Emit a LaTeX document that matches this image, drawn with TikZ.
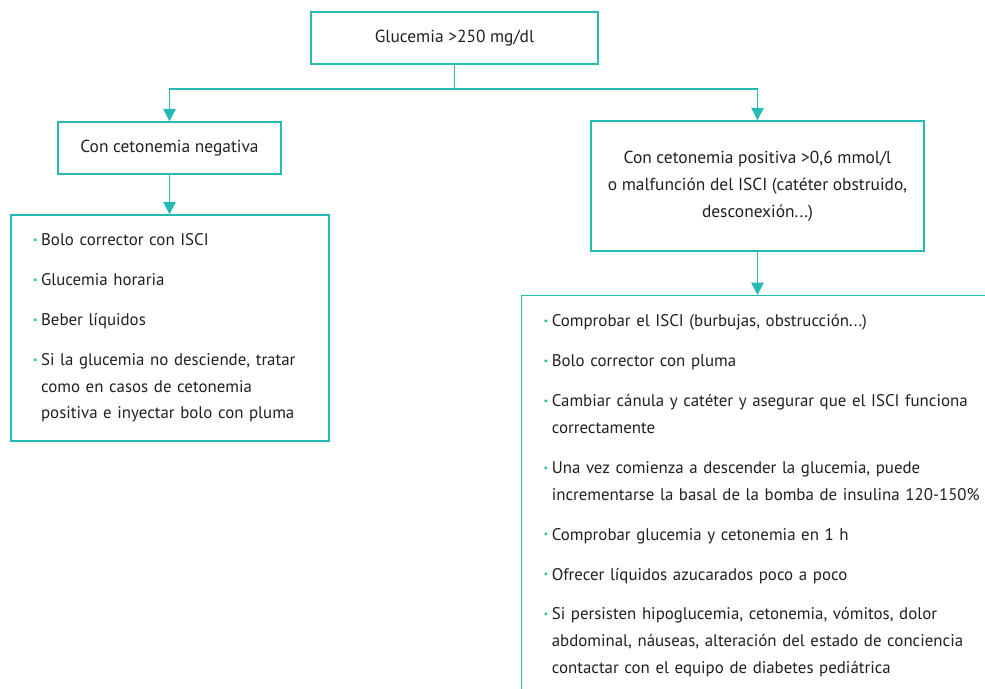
\documentclass[tikz,border=0pt]{standalone}
\usepackage{fontspec}
\setmainfont{PT Sans}
\usepackage{xcolor}
\usetikzlibrary{arrows.meta}
\definecolor{turq}{RGB}{38,186,180}
\definecolor{txt}{RGB}{35,31,32}
\newcommand\bul{\makebox[4.6pt][l]{\textcolor{turq}{\raisebox{0.13em}{\scalebox{0.6}{\textbullet}}}}}
\newcommand\itm[1]{\hangindent=4.6pt\hangafter=1\noindent\bul#1\par}

\begin{document}
\begin{tikzpicture}[x=0.02cm,y=-0.02cm,
  box/.style={draw=turq,line width=0.85pt,text=txt,align=center,inner sep=0pt},
  listbox/.style={draw=turq,line width=0.85pt,text=txt,inner xsep=0.44cm,
    font=\fontsize{9.6}{15.3}\selectfont\raggedright\setlength\parskip{7.4pt}},
  arr/.style={draw=turq,line width=0.85pt,-{Triangle[width=7pt,length=7pt]}},
  font=\fontsize{9.9}{15.3}\selectfont]
  \path[use as bounding box,clip] (0,0) rectangle (985,689);

  \node[box,minimum width=5.74cm,minimum height=1.04cm] (gluc) at (454.5,38) {Glucemia >250 mg/dl};
  \node[box,minimum width=4.46cm,minimum height=1.04cm] (neg) at (169.5,148) {Con cetonemia negativa};
  \node[box,minimum width=6.66cm,minimum height=2.6cm] (pos) at (757.5,186)
    {Con cetonemia positiva >0,6 mmol/l\\o malfunción del ISCI (catéter obstruido,\\desconexión...)};

  \node[listbox,text width=5.48cm,minimum height=4.52cm] (negitems) at (170,328) {%
    \itm{Bolo corrector con ISCI}
    \itm{Glucemia horaria}
    \itm{Beber líquidos}
    \itm{Si la glucemia no desciende, tratar\newline como en casos de cetonemia\newline positiva e inyectar bolo con pluma}};

  \node[listbox,text width=9.2cm,inner ysep=0.38cm,anchor=north west] (positems) at (521,295) {%
    \itm{Comprobar el ISCI (burbujas, obstrucción...)}
    \itm{Bolo corrector con pluma}
    \itm{Cambiar cánula y catéter y asegurar que el ISCI funciona\newline correctamente}
    \itm{Una vez comienza a descender la glucemia, puede\newline incrementarse la basal de la bomba de insulina 120-150\%}
    \itm{Comprobar glucemia y cetonemia en 1 h}
    \itm{Ofrecer líquidos azucarados poco a poco}
    \itm{Si persisten hipoglucemia, cetonemia, vómitos, dolor\newline abdominal, náuseas, alteración del estado de conciencia\newline contactar con el equipo de diabetes pediátrica}};

  \coordinate (split) at (454.5,89);
  \draw[turq,line width=0.85pt] (gluc) -- (split);
  \draw[arr] (split) -| (neg);
  \draw[arr] (split) -| (pos);
  \draw[arr] (neg.south) -- (neg.south |- negitems.north);
  \draw[arr] (pos.south) -- (pos.south |- positems.north);
\end{tikzpicture}
\end{document}
